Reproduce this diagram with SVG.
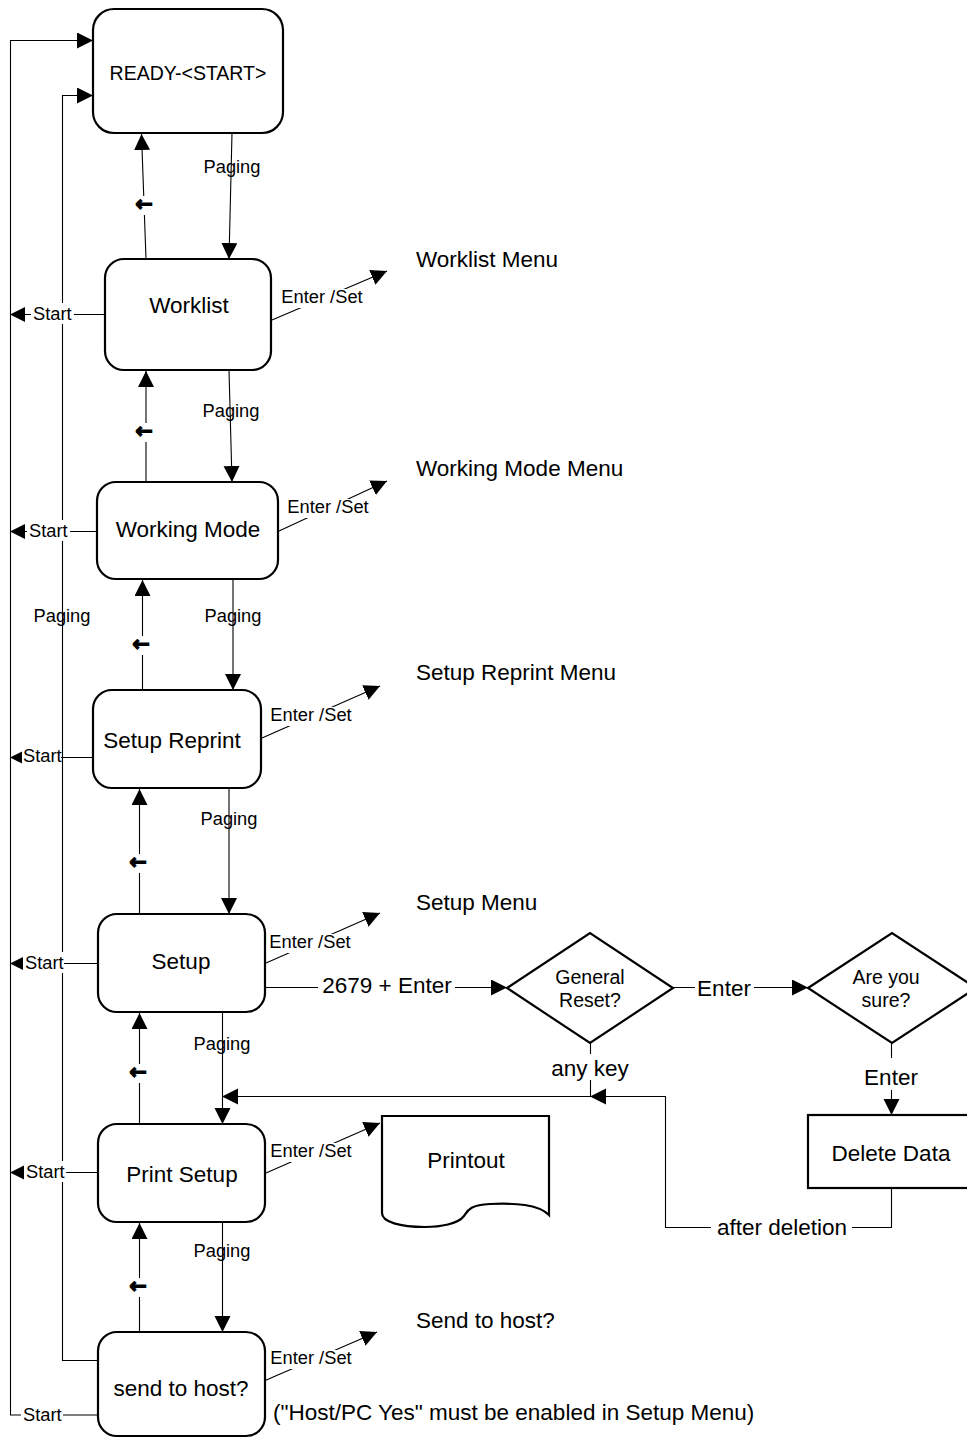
<svg xmlns="http://www.w3.org/2000/svg" width="967" height="1438" viewBox="0 0 967 1438">
<style>
text{font-family:"Liberation Sans",Arial,sans-serif;fill:#000}
.node{fill:#fff;stroke:#000;stroke-width:2.2}
.c{fill:none;stroke:#000;stroke-width:1.1}
.t22{font-size:22.5px}
.t19{font-size:19.5px}
.t18{font-size:18.3px}
.mid{text-anchor:middle}
.bg{fill:#fff;stroke:none}
.ar{font-family:"DejaVu Sans",sans-serif;font-weight:bold;font-size:21px;stroke:#000;stroke-width:1.2}
</style>
<defs>
<marker id="a" markerUnits="userSpaceOnUse" markerWidth="17" markerHeight="17" refX="16" refY="8" orient="auto"><path d="M0,0 L16,8 L0,16 Z" fill="#000"/></marker>
<marker id="s" markerUnits="userSpaceOnUse" markerWidth="16" markerHeight="16" refX="15" refY="7.5" orient="auto"><path d="M0,0 L15,7.5 L0,15 Z" fill="#000"/></marker>
</defs>

<g id="connectors">
<polyline class="c" points="98,1415 10.5,1415 10.5,40.5 93,40.5" marker-end="url(#a)"/>
<polyline class="c" points="98,1360.5 62.5,1360.5 62.5,95.5 93,95.5" marker-end="url(#a)"/>
<text class="t18 mid" x="62" y="622">Paging</text>

<line class="c" x1="232" y1="133" x2="229" y2="259" marker-end="url(#a)"/>
<text class="t18 mid" x="232" y="173">Paging</text>
<line class="c" x1="229" y1="370" x2="232" y2="482" marker-end="url(#a)"/>
<text class="t18 mid" x="231" y="417">Paging</text>
<line class="c" x1="233" y1="579" x2="233" y2="690" marker-end="url(#a)"/>
<text class="t18 mid" x="233" y="622">Paging</text>
<line class="c" x1="229" y1="788" x2="229" y2="914" marker-end="url(#a)"/>
<text class="t18 mid" x="229" y="825">Paging</text>
<line class="c" x1="222.5" y1="1012" x2="222.5" y2="1124" marker-end="url(#a)"/>
<text class="t18 mid" x="222" y="1050">Paging</text>
<line class="c" x1="222.5" y1="1222" x2="222.5" y2="1332" marker-end="url(#a)"/>
<text class="t18 mid" x="222" y="1257">Paging</text>

<line class="c" x1="146" y1="259" x2="141.5" y2="134" marker-end="url(#a)"/>
<rect class="bg" x="134" y="196" width="20" height="19"/>
<text class="ar mid" x="144" y="211">←</text>
<line class="c" x1="146" y1="482" x2="146" y2="371" marker-end="url(#a)"/>
<rect class="bg" x="134" y="423" width="20" height="19"/>
<text class="ar mid" x="144" y="438">←</text>
<line class="c" x1="142.5" y1="690" x2="142.5" y2="580" marker-end="url(#a)"/>
<rect class="bg" x="132" y="636" width="20" height="19"/>
<text class="ar mid" x="141" y="651">←</text>
<line class="c" x1="139.5" y1="914" x2="139.5" y2="789" marker-end="url(#a)"/>
<rect class="bg" x="129" y="854" width="20" height="19"/>
<text class="ar mid" x="138" y="869">←</text>
<line class="c" x1="139.5" y1="1124" x2="139.5" y2="1013" marker-end="url(#a)"/>
<rect class="bg" x="129" y="1064" width="20" height="19"/>
<text class="ar mid" x="138" y="1079">←</text>
<line class="c" x1="139.5" y1="1332" x2="139.5" y2="1223" marker-end="url(#a)"/>
<rect class="bg" x="129" y="1278" width="20" height="19"/>
<text class="ar mid" x="138" y="1293">←</text>

<line class="c" x1="105" y1="314.5" x2="10" y2="314.5" marker-end="url(#s)"/>
<rect class="bg" x="31" y="303" width="43" height="21"/>
<text class="t18" x="33" y="320">Start</text>
<line class="c" x1="97" y1="531.5" x2="10" y2="531.5" marker-end="url(#s)"/>
<rect class="bg" x="27" y="520" width="43" height="21"/>
<text class="t18" x="29" y="537">Start</text>
<line class="c" x1="93" y1="757.5" x2="10" y2="757.5" marker-end="url(#s)"/>
<rect class="bg" x="22" y="745" width="39" height="21"/>
<text class="t18" x="23" y="762">Start</text>
<line class="c" x1="98" y1="963.5" x2="10" y2="963.5" marker-end="url(#s)"/>
<rect class="bg" x="23" y="952" width="41" height="21"/>
<text class="t18" x="25" y="969">Start</text>
<line class="c" x1="98" y1="1172.5" x2="10" y2="1172.5" marker-end="url(#s)"/>
<rect class="bg" x="24" y="1161" width="42" height="21"/>
<text class="t18" x="26" y="1178">Start</text>
<rect class="bg" x="21" y="1404" width="42" height="21"/>
<text class="t18" x="23" y="1421">Start</text>

<line class="c" x1="272" y1="320" x2="387" y2="271" marker-end="url(#a)"/>
<rect class="bg" x="280" y="289" width="85" height="19"/>
<text class="t18 mid" x="322" y="303">Enter /Set</text>
<line class="c" x1="279" y1="531" x2="387" y2="481" marker-end="url(#a)"/>
<rect class="bg" x="286" y="499" width="85" height="19"/>
<text class="t18 mid" x="328" y="513">Enter /Set</text>
<line class="c" x1="262" y1="738" x2="380" y2="686" marker-end="url(#a)"/>
<rect class="bg" x="269" y="707" width="85" height="19"/>
<text class="t18 mid" x="311" y="721">Enter /Set</text>
<line class="c" x1="266" y1="963" x2="380" y2="913" marker-end="url(#a)"/>
<rect class="bg" x="268" y="934" width="85" height="19"/>
<text class="t18 mid" x="310" y="948">Enter /Set</text>
<line class="c" x1="266" y1="1173" x2="380" y2="1123" marker-end="url(#a)"/>
<rect class="bg" x="269" y="1143" width="85" height="19"/>
<text class="t18 mid" x="311" y="1157">Enter /Set</text>
<line class="c" x1="264" y1="1381" x2="377" y2="1332" marker-end="url(#a)"/>
<rect class="bg" x="269" y="1350" width="85" height="19"/>
<text class="t18 mid" x="311" y="1364">Enter /Set</text>

<line class="c" x1="265" y1="987.5" x2="507" y2="987.5" marker-end="url(#a)"/>
<rect class="bg" x="318" y="972" width="137" height="26"/>
<text class="t22 mid" x="387" y="993">2679 + Enter</text>
<line class="c" x1="673" y1="987.5" x2="808" y2="987.5" marker-end="url(#a)"/>
<rect class="bg" x="695" y="972" width="59" height="26"/>
<text class="t22 mid" x="724" y="996">Enter</text>
<line class="c" x1="891.5" y1="1043" x2="891.5" y2="1115" marker-end="url(#a)"/>
<rect class="bg" x="866" y="1058" width="50" height="32"/>
<text class="t22 mid" x="891" y="1085">Enter</text>
<line class="c" x1="590.5" y1="1043" x2="590.5" y2="1096"/>
<rect class="bg" x="548" y="1054" width="85" height="26"/>
<text class="t22 mid" x="590" y="1076">any key</text>
<polyline class="c" points="891.5,1188 891.5,1227.5 665.5,1227.5 665.5,1096.5 590,1096.5" marker-end="url(#a)"/>
<rect class="bg" x="711" y="1212" width="141" height="28"/>
<text class="t22 mid" x="782" y="1235">after deletion</text>
<line class="c" x1="590" y1="1096.5" x2="222" y2="1096.5" marker-end="url(#a)"/>
</g>

<g id="n-ready"><rect class="node" x="93" y="9" width="190" height="124" rx="21"/><text class="t19 mid" x="188" y="80">READY-&lt;START&gt;</text></g>
<g id="n-worklist"><rect class="node" x="105" y="259" width="166" height="111" rx="19"/><text class="t22 mid" x="189" y="313">Worklist</text></g>
<g id="n-workingmode"><rect class="node" x="97" y="482" width="181" height="97" rx="19"/><text class="t22 mid" x="188" y="537">Working Mode</text></g>
<g id="n-setupreprint"><rect class="node" x="93" y="690" width="168" height="98" rx="19"/><text class="t22 mid" x="172" y="748">Setup Reprint</text></g>
<g id="n-setup"><rect class="node" x="98" y="914" width="167" height="98" rx="19"/><text class="t22 mid" x="181" y="969">Setup</text></g>
<g id="n-printsetup"><rect class="node" x="98" y="1124" width="167" height="98" rx="19"/><text class="t22 mid" x="182" y="1182">Print Setup</text></g>
<g id="n-sendhost"><rect class="node" x="98" y="1332" width="167" height="104" rx="19"/><text class="t22 mid" x="181" y="1396">send to host?</text></g>

<g id="n-menus">
<text class="t22" x="416" y="267">Worklist Menu</text>
<text class="t22" x="416" y="476">Working Mode Menu</text>
<text class="t22" x="416" y="680">Setup Reprint Menu</text>
<text class="t22" x="416" y="910">Setup Menu</text>
<text class="t22" x="416" y="1328">Send to host?</text>
<text class="t22" x="273" y="1420">("Host/PC Yes" must be enabled in Setup Menu)</text>
</g>

<g id="n-general-reset"><polygon class="node" points="507,988 590,933 673,988 590,1043"/><text class="t19 mid" x="590" y="984">General</text><text class="t19 mid" x="590" y="1007">Reset?</text></g>
<g id="n-sure"><polygon class="node" points="808,988 892,933 976,988 892,1043"/><text class="t19 mid" x="886" y="984">Are you</text><text class="t19 mid" x="886" y="1007">sure?</text></g>
<g id="n-delete"><rect class="node" x="808" y="1115" width="170" height="73"/><text class="t22 mid" x="891" y="1161">Delete Data</text></g>
<g id="n-printout"><path class="node" d="M382,1116 H549 V1215 C538,1204 515,1203 490,1204 C470,1205 468,1210 464,1216 C458,1224 440,1227 425,1227 C400,1227 382,1222 382,1213 Z"/><text class="t22 mid" x="466" y="1168">Printout</text></g>
</svg>
